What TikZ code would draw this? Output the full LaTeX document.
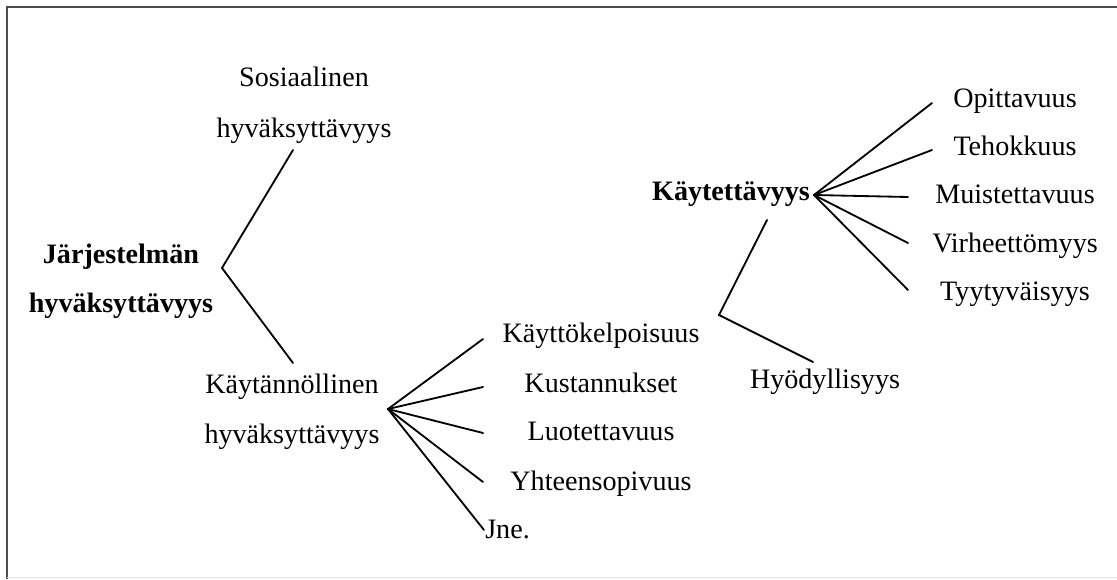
\documentclass[tikz,border=0pt]{standalone}
\usepackage{fontspec}
\setmainfont{Liberation Serif}
\usetikzlibrary{calc}
\tikzset{
	txt/.style={anchor=base, inner sep=0pt, font=\fontsize{20}{24}\selectfont},
	hdr/.style={txt, font=\fontsize{20}{24}\selectfont\bfseries},
	ln/.style={line width=1.3pt, line cap=round},
	frm/.style={line width=1.8pt, color=black!70}
}
\begin{document}
\begin{tikzpicture}[x=0.025cm, y=-0.025cm]
			%%%%% START %%%%%
			
			\useasboundingbox (0, 0) rectangle (1117, 579);
			\draw[frm] (1117, 7) -- (7, 7) -- (7, 579);
			\draw[line width=1pt, color=black!12] (7, 577.5) -- (1117, 577.5);
			
			\node[hdr] (jarj) at (121, 263) {Järjestelmän};
			\node[hdr] (jarjhyv) at (121, 312) {hyväksyttävyys};
			
			\node[txt] (sos) at (304, 86) {Sosiaalinen};
			\node[txt] (soshyv) at (304, 137) {hyväksyttävyys};
			
			\node[txt] (kaytan) at (292, 393) {Käytännöllinen};
			\node[txt] (kaytanhyv) at (292, 443) {hyväksyttävyys};
			
			\node[txt] (kayttok) at (601, 342) {Käyttökelpoisuus};
			\node[txt] (kustann) at (601, 392) {Kustannukset};
			\node[txt] (luotet) at (601, 440) {Luotettavuus};
			\node[txt] (yhteens) at (601, 490) {Yhteensopivuus};
			\node[txt, anchor=base west] (jne) at (485, 538) {Jne.};
			
			\node[hdr] (kaytet) at (731, 200) {Käytettävyys};
			\node[txt] (hyodyl) at (825, 388) {Hyödyllisyys};
			
			\node[txt] (opitt) at (1015, 107) {Opittavuus};
			\node[txt] (tehok) at (1015, 155) {Tehokkuus};
			\node[txt] (muist) at (1015, 203) {Muistettavuus};
			\node[txt] (virhe) at (1015, 252) {Virheettömyys};
			\node[txt] (tyyty) at (1015, 300) {Tyytyväisyys};
			
			% bracket ends and fan tips
			\coordinate (jarjv) at (222, 268);
			\coordinate (sos-end) at (293, 150);
			\coordinate (kaytan-end) at (293, 363);
			
			\coordinate (kaytanv) at (388, 409);
			\coordinate (kayttok-end) at (483, 339);
			\coordinate (kustann-end) at (483, 387);
			\coordinate (luotet-end) at (483, 433);
			\coordinate (yhteens-end) at (483, 482);
			\coordinate (jne-end) at (484, 530);
			
			\coordinate (kaytetv) at (814, 195);
			\coordinate (opitt-end) at (932, 103);
			\coordinate (tehok-end) at (932, 150);
			\coordinate (muist-end) at (908, 197);
			\coordinate (virhe-end) at (908, 243);
			\coordinate (tyyty-end) at (908, 290);
			
			\coordinate (hyodylv) at (719, 315);
			\coordinate (kaytet-end) at (767, 220);
			\coordinate (hyodyl-end) at (813, 362);
			
			\draw[ln] (sos-end) -- (jarjv) -- (kaytan-end);
			\foreach \n in {kayttok, kustann, luotet, yhteens, jne}
				\draw[ln] (kaytanv) -- (\n-end);
			\foreach \n in {opitt, tehok, muist, virhe, tyyty}
				\draw[ln] (kaytetv) -- (\n-end);
			\draw[ln] (kaytet-end) -- (hyodylv) -- (hyodyl-end);
			
			%%%%% END %%%%%
\end{tikzpicture}
\end{document}
